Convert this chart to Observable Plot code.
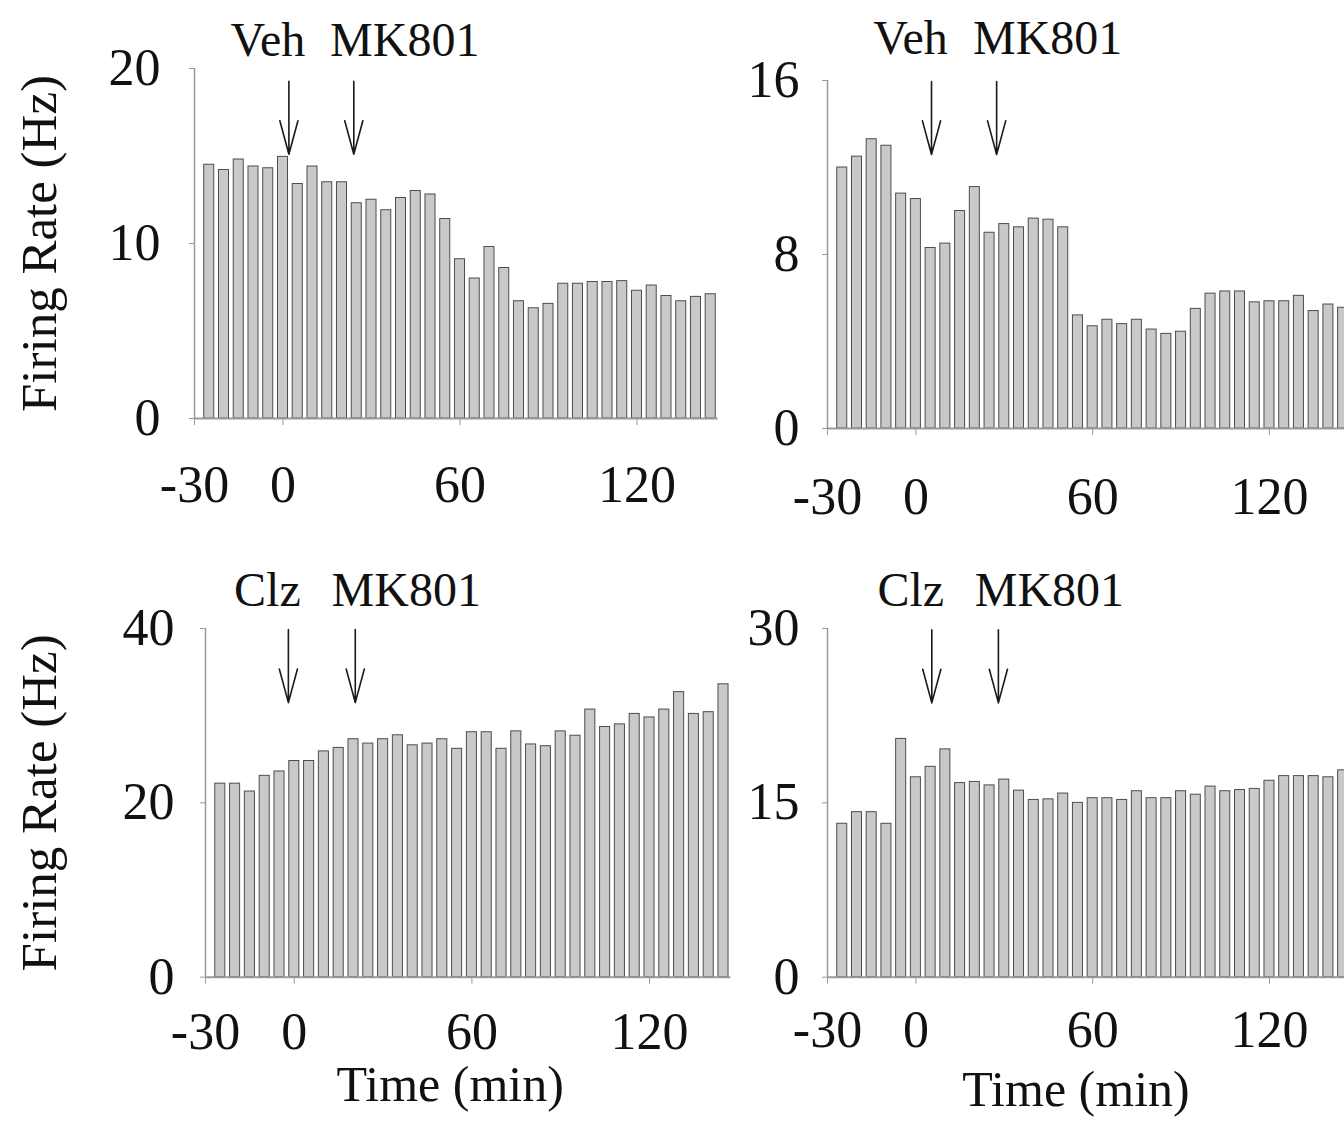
<!DOCTYPE html>
<html><head><meta charset="utf-8">
<script src="https://cdn.jsdelivr.net/npm/d3@7"></script>
<script src="https://cdn.jsdelivr.net/npm/@observablehq/plot@0.6"></script>
<style>
html,body{margin:0;padding:0;background:#fff;overflow:hidden}
#wrap{position:relative;width:1344px;height:1136px;overflow:hidden;background:#fff}
#wrap svg{position:absolute;overflow:visible}
</style></head><body><div id="wrap"></div>
<script>
// Time bins (min)
const times = [-25,-20,-15,-10,-5,0,5,10,15,20,25,30,35,40,45,50,55,60,65,70,75,80,85,90,95,100,105,110,115,120,125,130,135,140,145];
const xTicks = [-30, 0, 60, 120];

// Firing rates (Hz)
const vehA = [14.5,14.2,14.8,14.4,14.3,14.95,13.4,14.4,13.5,13.5,12.3,12.5,11.9,12.6,13.0,12.8,11.4,9.1,8.0,9.8,8.6,6.7,6.3,6.55,7.7,7.7,7.8,7.8,7.85,7.3,7.6,7.0,6.7,6.95,7.1];
const vehB = [12.0,12.5,13.3,13.0,10.8,10.55,8.3,8.5,10.0,11.1,9.0,9.4,9.25,9.65,9.6,9.25,5.2,4.7,5.0,4.8,5.0,4.55,4.35,4.45,5.5,6.2,6.3,6.3,5.8,5.85,5.85,6.1,5.4,5.7,5.55];
const clzA = [22.2,22.2,21.3,23.1,23.6,24.8,24.8,25.9,26.3,27.3,26.8,27.3,27.75,26.6,26.8,27.3,26.2,28.1,28.1,26.2,28.2,26.7,26.5,28.2,27.7,30.7,28.7,29.0,30.2,29.8,30.7,32.7,30.2,30.4,33.6];
const clzB = [13.2,14.2,14.2,13.2,20.5,17.2,18.1,19.6,16.7,16.8,16.5,17.0,16.05,15.25,15.3,15.8,15.0,15.4,15.4,15.25,16.0,15.4,15.4,16.0,15.7,16.4,16.0,16.1,16.2,16.9,17.3,17.3,17.3,17.2,17.8];

// y ticks per panel
const ticksA = [0, 10, 20];
const ticksB = [0, 8, 16];
const ticksC = [0, 20, 40];
const ticksD = [0, 15, 30];

// Injection arrows (time in min) and arrow tip level (Hz)
const arrowsA = [2, 24];    const tipA = 15.1;
const arrowsB = [5.3, 27.4]; const tipB = 12.6;
const arrowsC = [-2, 20.6]; const tipC = 31.5;
const arrowsD = [5.4, 28];  const tipD = 23.6;

const drugs = ["Veh", "Veh", "Clz", "Clz"];
const second = "MK801";
const yTitle = "Firing Rate (Hz)";
const xTitle = "Time (min)";

const FONT = '"Liberation Serif", "Times New Roman", Times, serif';
const AXIS = "#9a9a9a";

const vShape = {
  draw(ctx, l) {
    const hl = l * 0.46, hw = hl * 0.27;
    ctx.moveTo(0, 0);
    ctx.lineTo(0, -l);
    ctx.moveTo(-hw, -l + hl);
    ctx.lineTo(0, -l);
    ctx.lineTo(hw, -l + hl);
  }
};

function panel(cfg) {
  const data = times.map((t, i) => ({t, v: cfg.values[i]}));
  const marks = [
    Plot.rect(data, {x1: d => d.t - 1.7, x2: d => d.t + 1.7, y1: () => 0, y2: "v",
      fill: "#c9c9c9", stroke: "#4d4d4d", strokeWidth: 1}),
    Plot.ruleY([0], {stroke: AXIS, strokeWidth: 2}),
    Plot.ruleX([-30], {y1: () => 0, y2: () => cfg.yMax, stroke: AXIS, strokeWidth: 1.5}),
    Plot.axisY({ticks: cfg.yTicks, tickSize: 5, tickPadding: cfg.yPad, fontSize: 52,
      stroke: AXIS, fill: "#111", label: null, tickFormat: d => String(d)}),
    Plot.axisX({ticks: xTicks, tickSize: 7, tickPadding: cfg.xPad, fontSize: 52,
      stroke: AXIS, fill: "#111", label: null, tickFormat: d => String(d)}),
    Plot.vector(cfg.arrows, {x: d => d, y: () => cfg.tip, anchor: "end", rotate: 180,
      length: 73, shape: vShape, stroke: "#1a1a1a", strokeWidth: 1.6}),
    Plot.text([cfg.arrows[0]], {x: d => d, text: () => cfg.drug, frameAnchor: "top",
      lineAnchor: "middle", dy: cfg.labelDy, dx: -21, fontSize: 48, fill: "#111"}),
    Plot.text([cfg.arrows[1]], {x: d => d, text: () => second, frameAnchor: "top",
      lineAnchor: "middle", dy: cfg.labelDy, dx: 51, fontSize: 48, fill: "#111"})
  ];
  if (cfg.yLabel) marks.push(Plot.text([yTitle], {frameAnchor: "left", rotate: -90,
      textAnchor: "middle", lineAnchor: "middle", dx: cfg.yLabelDx, fontSize: 51, fill: "#111"}));
  if (cfg.xLabel) marks.push(Plot.text([xTitle], {frameAnchor: "bottom",
      textAnchor: "middle", lineAnchor: "middle",
      dx: cfg.xLabelDx, dy: cfg.xLabelDy, fontSize: 50, fill: "#111"}));
  const svg = Plot.plot({
    width: cfg.width, height: cfg.height,
    marginLeft: cfg.ml, marginRight: cfg.mr, marginTop: cfg.mt, marginBottom: cfg.mb,
    x: {domain: [-30, 147.5]},
    y: {domain: [0, cfg.yMax]},
    style: {fontFamily: FONT, background: "transparent", color: "#111", overflow: "visible"},
    marks
  });
  svg.style.left = cfg.left + "px";
  svg.style.top = cfg.top + "px";
  document.getElementById("wrap").appendChild(svg);
}

panel({values: vehA, yMax: 20, yTicks: ticksA, arrows: arrowsA, tip: tipA, drug: drugs[0],
  left: 0, top: 0, width: 730, height: 540, ml: 194, mr: 12.4, mt: 68, mb: 122,
  yPad: 29, xPad: 40, labelDy: -28, yLabel: true, yLabelDx: -155});
panel({values: vehB, yMax: 16, yTicks: ticksB, arrows: arrowsB, tip: tipB, drug: drugs[1],
  left: 640, top: 0, width: 720, height: 540, ml: 187, mr: 10, mt: 80, mb: 112,
  yPad: 23, xPad: 42, labelDy: -42});
panel({values: clzA, yMax: 40, yTicks: ticksC, arrows: arrowsC, tip: tipC, drug: drugs[2],
  left: 0, top: 560, width: 742, height: 576, ml: 205, mr: 11.6, mt: 68, mb: 159.3,
  yPad: 26, xPad: 28, labelDy: -38, yLabel: true, yLabelDx: -166, xLabel: true, xLabelDx: -18, xLabelDy: 108});
panel({values: clzB, yMax: 30, yTicks: ticksD, arrows: arrowsD, tip: tipD, drug: drugs[3],
  left: 640, top: 560, width: 720, height: 576, ml: 187, mr: 10, mt: 68, mb: 159.3,
  yPad: 23, xPad: 26, labelDy: -38, xLabel: true, xLabelDx: -13, xLabelDy: 113});
</script></body></html>
